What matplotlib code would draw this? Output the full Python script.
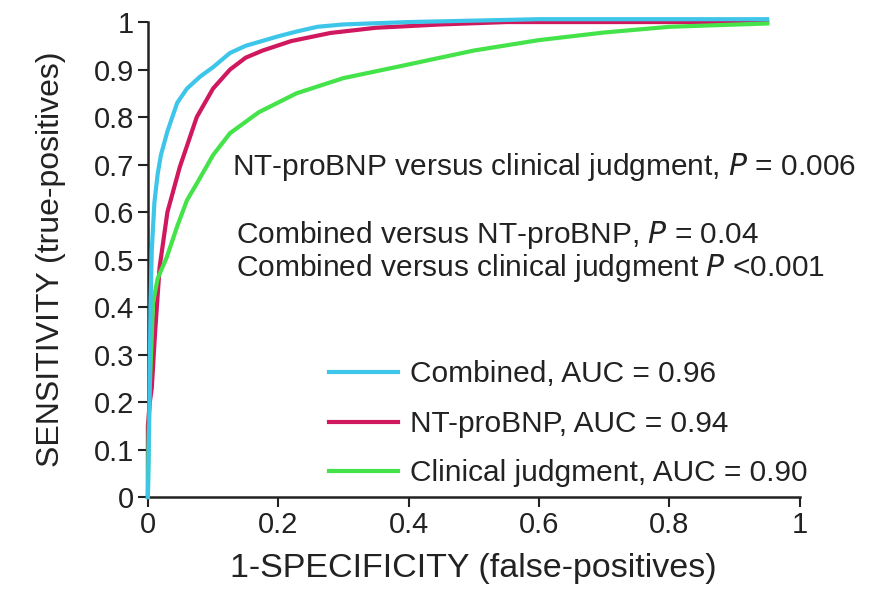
import matplotlib.pyplot as plt

plt.rcParams['font.family'] = ['Liberation Sans', 'DejaVu Sans']

# ROC curves: (1-specificity, sensitivity)
comb_x = [0, 0.002, 0.004, 0.006, 0.01, 0.015, 0.02, 0.03, 0.045, 0.06, 0.08, 0.1, 0.126, 0.15,
          0.2, 0.228, 0.26, 0.3, 0.4, 0.5, 0.6, 0.7, 0.8, 0.95]
comb_y = [0, 0.15, 0.4, 0.52, 0.62, 0.68, 0.72, 0.77, 0.83, 0.86, 0.885, 0.905, 0.935, 0.95,
          0.97, 0.98, 0.99, 0.995, 1.0, 1.003, 1.006, 1.006, 1.006, 1.006]

nt_x = [0, 0, 0.003, 0.006, 0.011, 0.018, 0.03, 0.049, 0.075, 0.1, 0.126, 0.15, 0.176, 0.22,
        0.28, 0.35, 0.45, 0.55, 0.65, 0.8, 0.95]
nt_y = [0, 0.15, 0.2, 0.23, 0.345, 0.484, 0.6, 0.695, 0.8, 0.86, 0.9, 0.925, 0.94, 0.96,
        0.977, 0.988, 0.995, 1.0, 1.0, 1.0, 1.0]

clin_x = [0, 0.002, 0.008, 0.015, 0.029, 0.045, 0.06, 0.075, 0.1, 0.126, 0.17, 0.228, 0.3,
          0.38, 0.5, 0.6, 0.7, 0.8, 0.95]
clin_y = [0, 0.2, 0.41, 0.46, 0.505, 0.57, 0.625, 0.66, 0.72, 0.766, 0.81, 0.85, 0.882,
          0.905, 0.94, 0.962, 0.978, 0.99, 0.997]

labels = ['Combined, AUC = 0.96', 'NT-proBNP, AUC = 0.94', 'Clinical judgment, AUC = 0.90']
colors = ['#3ec6ea', '#d0185f', '#44e34a']

fig = plt.figure(figsize=(8.75, 5.96), dpi=100)
ax = fig.add_axes([0.169, 0.166, 0.745, 0.797])

for xs, ys, lab, c in zip([comb_x, nt_x, clin_x], [comb_y, nt_y, clin_y], labels, colors):
    ax.plot(xs, ys, color=c, lw=3, label=lab, clip_on=False, zorder=3 if c == '#3ec6ea' else 2)

ax.set_xlim(0, 1)
ax.set_ylim(0, 1)
ax.set_xticks([0, 0.2, 0.4, 0.6, 0.8, 1])
ax.set_xticklabels(['0', '0.2', '0.4', '0.6', '0.8', '1'])
ax.set_yticks([i / 10 for i in range(11)])
ax.set_yticklabels(['0'] + ['0.%d' % i for i in range(1, 10)] + ['1'])
ax.tick_params(labelsize=21, width=1.5, length=7, pad=3, color='#222222', labelcolor='#222222')
for s in ['top', 'right']:
    ax.spines[s].set_visible(False)
for s in ['left', 'bottom']:
    ax.spines[s].set_linewidth(1.8)
    ax.spines[s].set_color('#222222')

ax.set_xlabel('1-SPECIFICITY (false-positives)', fontsize=24.5, color='#222222', labelpad=10)
ax.set_ylabel('SENSITIVITY (true-positives)', fontsize=23, color='#222222', labelpad=20)

tkw = dict(fontsize=21.5, color='#222222', transform=ax.transAxes, va='center')
ax.text(0.129, 0.695, 'NT-proBNP versus clinical judgment, $\\it{P}$ = 0.006', **tkw)
ax.text(0.135, 0.552, 'Combined versus NT-proBNP, $\\it{P}$ = 0.04', **tkw)
ax.text(0.135, 0.482, 'Combined versus clinical judgment $\\it{P}$ <0.001', **tkw)

ax.legend(loc='lower left', bbox_to_anchor=(0.26, -0.005), frameon=False, fontsize=21.5,
          handlelength=2.3, handletextpad=0.4, labelspacing=0.72, labelcolor='#222222',
          borderaxespad=0)

fig.savefig('out.png', dpi=100)
